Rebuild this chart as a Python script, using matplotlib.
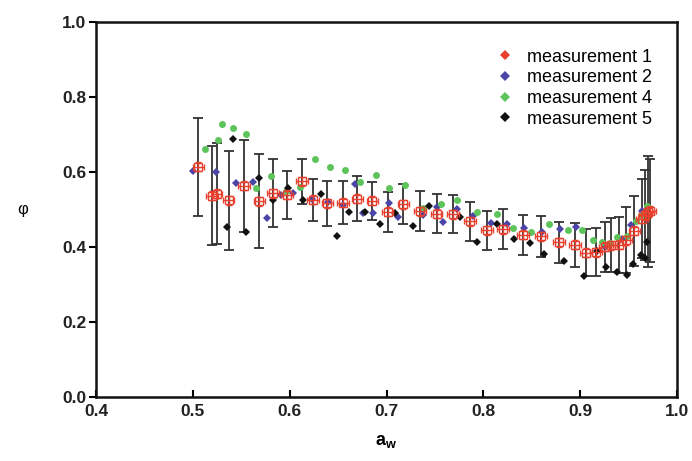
import matplotlib
matplotlib.use('Agg')
import matplotlib.pyplot as plt
from matplotlib.lines import Line2D
import numpy as np

plt.rcParams['font.family'] = ['Liberation Sans', 'DejaVu Sans']
plt.rcParams['mathtext.fontset'] = 'custom'
plt.rcParams['mathtext.bf'] = 'Liberation Sans:bold'
plt.rcParams['mathtext.rm'] = 'Liberation Sans'

# measurement 1 (red squares) with spread over all measurements (black bars)
aw_mean = [0.5057, 0.5195, 0.5246, 0.537, 0.553, 0.5687, 0.5828, 0.597, 0.6127, 0.6244,
           0.639, 0.6548, 0.670, 0.6854, 0.7012, 0.7174, 0.7346, 0.7518, 0.7684, 0.786,
           0.8035, 0.8206, 0.8407, 0.8596, 0.8782, 0.8947, 0.906, 0.9164, 0.9257, 0.9319,
           0.9404, 0.9474, 0.956, 0.9636, 0.967, 0.9704, 0.9721]
phi_mean = [0.614, 0.537, 0.542, 0.524, 0.563, 0.522, 0.543, 0.539, 0.575, 0.526,
            0.516, 0.518, 0.528, 0.523, 0.494, 0.514, 0.495, 0.489, 0.487, 0.468,
            0.444, 0.447, 0.432, 0.428, 0.412, 0.406, 0.385, 0.386, 0.400, 0.405,
            0.406, 0.418, 0.443, 0.475, 0.485, 0.494, 0.497]
phi_sd = [0.131, 0.132, 0.134, 0.132, 0.123, 0.125, 0.091, 0.064, 0.060, 0.056,
          0.059, 0.057, 0.060, 0.051, 0.053, 0.053, 0.053, 0.051, 0.051, 0.051,
          0.052, 0.053, 0.053, 0.054, 0.054, 0.059, 0.062, 0.064, 0.066, 0.071,
          0.075, 0.088, 0.094, 0.105, 0.120, 0.148, 0.137]

# measurement 2 (blue)
aw_m2 = [0.4998, 0.524, 0.5446, 0.5618, 0.5763, 0.5907, 0.6037, 0.6227, 0.6393, 0.6548,
         0.6675, 0.676, 0.6864, 0.703, 0.7122, 0.7374, 0.7525, 0.758, 0.7725, 0.789,
         0.8076, 0.8248, 0.842, 0.8603, 0.879, 0.8957, 0.9257, 0.9429, 0.952, 0.9635]
phi_m2 = [0.603, 0.601, 0.570, 0.574, 0.476, 0.538, 0.543, 0.527, 0.521, 0.513,
          0.567, 0.490, 0.490, 0.518, 0.481, 0.485, 0.506, 0.466, 0.501, 0.483,
          0.463, 0.461, 0.450, 0.441, 0.447, 0.454, 0.399, 0.421, 0.459, 0.497]

# measurement 4 (green)
aw_m4 = [0.5126, 0.5257, 0.5298, 0.5418, 0.555, 0.565, 0.581, 0.596, 0.6107, 0.626,
         0.6417, 0.657, 0.6726, 0.689, 0.703, 0.7191, 0.738, 0.756, 0.773, 0.7938,
         0.8138, 0.831, 0.849, 0.868, 0.8878, 0.9016, 0.9135, 0.9222, 0.931, 0.9383,
         0.9486, 0.9577, 0.9624, 0.9687]
phi_m4 = [0.661, 0.685, 0.727, 0.717, 0.701, 0.556, 0.588, 0.549, 0.559, 0.634,
          0.612, 0.605, 0.572, 0.592, 0.556, 0.565, 0.503, 0.515, 0.525, 0.494,
          0.488, 0.450, 0.441, 0.461, 0.445, 0.444, 0.418, 0.413, 0.410, 0.427,
          0.428, 0.468, 0.485, 0.510]

# measurement 5 (black)
aw_m5 = [0.535, 0.541, 0.555, 0.5687, 0.5825, 0.5986, 0.614, 0.632, 0.649, 0.6616,
         0.6778, 0.6933, 0.7088, 0.7277, 0.7442, 0.776, 0.793, 0.8144, 0.8317, 0.8482,
         0.8627, 0.8833, 0.904, 0.917, 0.9267, 0.9377, 0.948, 0.955, 0.9624, 0.967,
         0.9687]
phi_m5 = [0.453, 0.688, 0.439, 0.583, 0.524, 0.556, 0.525, 0.541, 0.428, 0.494,
          0.494, 0.461, 0.490, 0.456, 0.508, 0.481, 0.414, 0.461, 0.420, 0.410,
          0.381, 0.364, 0.323, 0.390, 0.346, 0.334, 0.325, 0.355, 0.379, 0.370,
          0.412]

labels = ['measurement 1', 'measurement 2', 'measurement 4', 'measurement 5']
red = '#e8402e'
blue = '#4a44a6'
green = '#5cc45a'
black = '#111111'

fig = plt.figure(figsize=(6.92, 4.61), dpi=100)
ax = fig.add_axes([96 / 692, 64 / 461, 581 / 692, 375 / 461])

# black spread bars
ax.errorbar(aw_mean, phi_mean, yerr=phi_sd, fmt='none', ecolor='#333333',
            elinewidth=1.3, capsize=3.5, capthick=1.3, zorder=2)

ax.plot(aw_m2, phi_m2, 'D', color=blue, markersize=4.5, markeredgewidth=0, zorder=3)
ax.plot(aw_m4, phi_m4, 'o', color=green, markersize=5, markeredgewidth=0, zorder=3)
ax.plot(aw_m5, phi_m5, 'D', color=black, markersize=4.5, markeredgewidth=0, zorder=3)

# measurement 1: open squares with small error bars
ax.errorbar(aw_mean, phi_mean, xerr=0.006, yerr=0.012, fmt='s', mfc='none', mec=red,
            ms=6, mew=1.0, ecolor=red, elinewidth=1.0, capsize=2, zorder=4)

ax.set_xlim(0.4, 1.0)
ax.set_ylim(0.0, 1.0)
ax.set_xticks(np.arange(0.4, 1.01, 0.1))
ax.set_yticks(np.arange(0.0, 1.01, 0.2))
ax.set_xticklabels(['%.1f' % v for v in np.arange(0.4, 1.01, 0.1)])
ax.set_yticklabels(['%.1f' % v for v in np.arange(0.0, 1.01, 0.2)])
ax.tick_params(axis='x', direction='in', length=5, width=1.5, labelsize=12.5, pad=5)
ax.tick_params(axis='y', direction='out', length=5, width=1.5, labelsize=12.5, pad=2)
for lab in ax.get_xticklabels() + ax.get_yticklabels():
    lab.set_fontweight('bold')
    lab.set_color('#222222')
for sp in ax.spines.values():
    sp.set_linewidth(1.8)
    sp.set_color('#111111')

ax.set_xlabel(r'$\mathbf{a_w}$', fontsize=13)
ax.xaxis.set_label_coords(0.5, -0.095)
ax.set_ylabel('φ', rotation=0, fontsize=12, va='center')
ax.yaxis.set_label_coords(-0.127, 0.5)

handles = [Line2D([], [], marker='D', ls='none', color=c, markersize=5, markeredgewidth=0)
           for c in [red, blue, green, black]]
ax.legend(handles, labels, loc='upper right', bbox_to_anchor=(0.985, 0.972),
          frameon=False, fontsize=13, labelspacing=0.2, handletextpad=0.6,
          handlelength=1.2)

fig.savefig('out.png', dpi=100)
